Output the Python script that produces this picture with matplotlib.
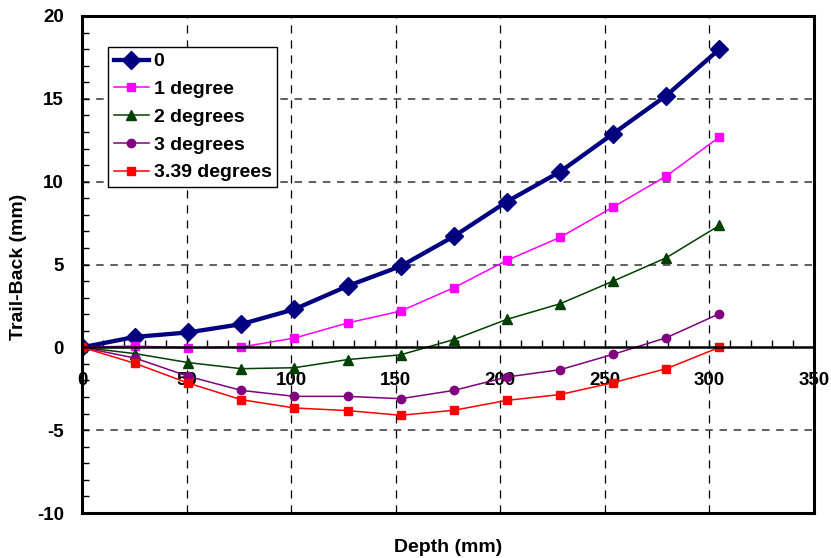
import matplotlib
matplotlib.use("Agg")
import matplotlib.pyplot as plt
from matplotlib.ticker import MultipleLocator

plt.rcParams['font.family'] = ['Liberation Sans', 'DejaVu Sans']
plt.rcParams['font.weight'] = 'bold'
plt.rcParams['axes.unicode_minus'] = False

depth = [0, 25.4, 50.8, 76.2, 101.6, 127.0, 152.4, 177.8, 203.2, 228.6, 254.0, 279.4, 304.8]
s_0deg = [0, 0.63, 0.9, 1.4, 2.3, 3.7, 4.9, 6.7, 8.8, 10.6, 12.9, 15.2, 18.0]
s_1deg = [0, 0.08, -0.03, 0.02, 0.56, 1.47, 2.19, 3.6, 5.25, 6.64, 8.47, 10.34, 12.7]
s_2deg = [0, -0.38, -0.92, -1.29, -1.23, -0.74, -0.45, 0.47, 1.69, 2.63, 4.0, 5.41, 7.36]
s_3deg = [0, -0.65, -1.75, -2.6, -2.96, -2.96, -3.1, -2.6, -1.79, -1.35, -0.42, 0.58, 2.03]
s_339deg = [0, -0.97, -2.16, -3.16, -3.66, -3.82, -4.1, -3.8, -3.2, -2.85, -2.13, -1.29, 0.0]
labels = ['0', '1 degree', '2 degrees', '3 degrees', '3.39 degrees']

fig = plt.figure(figsize=(8.31, 5.58), dpi=100)
ax = fig.add_axes([82/831, 1-513/558, (814-82)/831, (513-16)/558])

ax.plot(depth, s_0deg, color='#000080', lw=3.1, marker='D', ms=9.5, label=labels[0], solid_joinstyle='round')
ax.plot(depth, s_1deg, color='#FF00FF', lw=1.1, marker='s', ms=6, label=labels[1])
ax.plot(depth, s_2deg, color='#004000', lw=1.1, marker='^', ms=6.5, label=labels[2])
ax.plot(depth, s_3deg, color='#800080', lw=1.1, marker='o', ms=6, label=labels[3])
ax.plot(depth, s_339deg, color='#FF0000', lw=1.1, marker='s', ms=6, label=labels[4])

ax.set_xlim(0, 350)
ax.set_ylim(-10, 20)
ax.xaxis.set_major_locator(MultipleLocator(50))
ax.xaxis.set_minor_locator(MultipleLocator(10))
ax.yaxis.set_major_locator(MultipleLocator(5))
ax.yaxis.set_minor_locator(MultipleLocator(1))

# Gridlines
for xv in range(50, 301, 50):
    ax.axvline(xv, color='black', lw=0.9, ls=(0, (6.5, 5.5)), zorder=1)
for yv in (-5, 5, 10, 15):
    ax.axhline(yv, color='#444444', lw=1.2, ls=(0, (4.5, 4)), zorder=1)

for s in ['left', 'right', 'top']:
    ax.spines[s].set_linewidth(2.2)
ax.spines['bottom'].set_position(('data', 0))
ax.spines['bottom'].set_linewidth(1.8)
ax.plot([0, 1], [0, 0], transform=ax.transAxes, color='black', lw=2.2, clip_on=False, zorder=3)

fs = 13.5
ax.tick_params(axis='x', which='both', direction='in', length=5, width=1, pad=18, labelsize=fs)
ax.tick_params(axis='y', which='both', direction='in', length=5, width=1, pad=13, labelsize=fs)
for t in ax.get_xticklabels() + ax.get_yticklabels():
    t.set_fontweight('bold')

ax.set_xlabel('Depth (mm)', fontsize=14, fontweight='bold')
ax.set_ylabel('Trail-Back (mm)', fontsize=14, fontweight='bold')
ax.xaxis.label.set_va('center')
ax.yaxis.label.set_va('center')
ax.xaxis.set_label_coords(0.5, (513-547)/497)
ax.yaxis.set_label_coords((19-82)/732, (513-267)/497)

leg = ax.legend(loc='upper left', bbox_to_anchor=((108-82)/732, (513-47)/497), borderaxespad=0,
                fancybox=False, framealpha=1, edgecolor='black',
                handlelength=1.8, handletextpad=0.25, borderpad=0.3, labelspacing=0.52,
                prop={'weight': 'bold', 'size': 14})
leg.get_frame().set_linewidth(1.0)

fig.savefig('out.png', dpi=100)
